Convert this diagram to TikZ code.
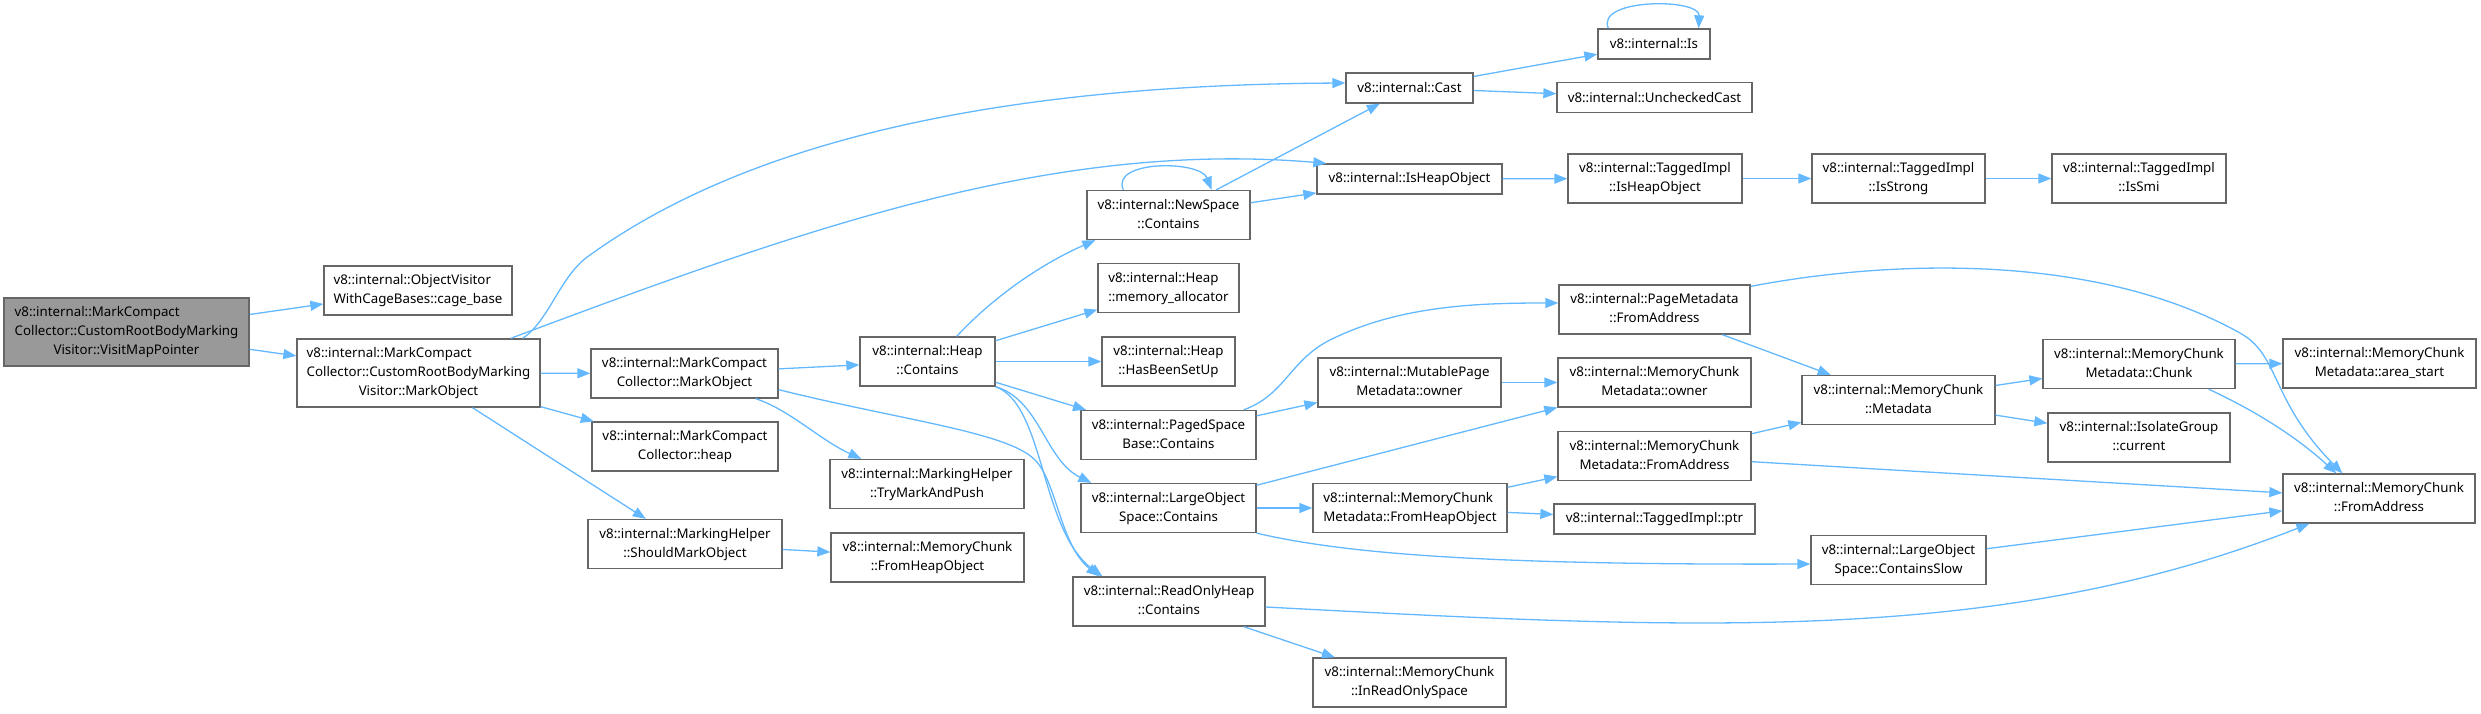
\documentclass[tikz,border=0pt]{standalone}
\usepackage{fontspec}
\usepackage{tikz}
\usetikzlibrary{arrows.meta}
\newfontfamily\dxfont{Noto Sans}
\definecolor{edgeblue}{HTML}{63B8FF}
\definecolor{boxline}{HTML}{666666}
\definecolor{rootfill}{HTML}{999999}
\tikzset{
  fn/.style={draw=boxline,line width=0.65pt,fill=white,inner sep=0pt,
    font=\dxfont\fontsize{6.65}{9.5}\selectfont},
  root/.style={fn,fill=rootfill},
  bw/.style={minimum width=#1*0.5pt},
  l1/.style={minimum height=15pt},
  l2/.style={minimum height=24.5pt},
  l3/.style={minimum height=34pt},
  call/.style={-{Triangle[length=6.5pt,width=5pt]},line width=0.65pt,edgeblue},
}
\newcommand{\dxl}[2]{\begin{tabular}{@{}l@{}}#1\\\multicolumn{1}{@{}c@{}}{#2}\end{tabular}}

\begin{document}
\begin{tikzpicture}[x=0.5pt,y=-0.5pt]
  \useasboundingbox (0,0) rectangle (2481,713);
  \node[root,bw=245,l3] (vmp) at (126.5,332) {\dxl{v8::internal::MarkCompact\\Collector::CustomRootBodyMarking}{Visitor::VisitMapPointer}};
  \node[fn,bw=188,l2] (cage) at (418,290.5) {\dxl{v8::internal::ObjectVisitor}{WithCageBases::cage\_base}};
  \node[fn,bw=243,l3] (crbmo) at (418.5,373) {\dxl{v8::internal::MarkCompact\\Collector::CustomRootBodyMarking}{Visitor::MarkObject}};
  \node[fn,bw=187,l2] (cmo) at (684.5,373.5) {\dxl{v8::internal::MarkCompact}{Collector::MarkObject}};
  \node[fn,bw=186,l2] (heap) at (685,446.5) {\dxl{v8::internal::MarkCompact}{Collector::heap}};
  \node[fn,bw=194,l2] (should) at (685,544) {\dxl{v8::internal::MarkingHelper}{::ShouldMarkObject}};
  \node[fn,bw=135,l2] (hcont) at (927.5,361.5) {\dxl{v8::internal::Heap}{::Contains}};
  \node[fn,bw=194,l2] (trymark) at (927,484) {\dxl{v8::internal::MarkingHelper}{::TryMarkAndPush}};
  \node[fn,bw=193,l2] (mcfho) at (927.5,557.5) {\dxl{v8::internal::MemoryChunk}{::FromHeapObject}};
  \node[fn,bw=163,l2] (nscont) at (1168.5,215) {\dxl{v8::internal::NewSpace}{::Contains}};
  \node[fn,bw=141,l2] (memalloc) at (1168.5,288) {\dxl{v8::internal::Heap}{::memory\_allocator}};
  \node[fn,bw=133,l2] (hasbeen) at (1168.5,361.5) {\dxl{v8::internal::Heap}{::HasBeenSetUp}};
  \node[fn,bw=175,l2] (paged) at (1168.5,435) {\dxl{v8::internal::PagedSpace}{Base::Contains}};
  \node[fn,bw=175,l2] (large) at (1168.5,508) {\dxl{v8::internal::LargeObject}{Space::Contains}};
  \node[fn,bw=192,l2] (rohc) at (1169,601.5) {\dxl{v8::internal::ReadOnlyHeap}{::Contains}};
  \node[fn,bw=127,l1] (cast) at (1409.5,88) {v8::internal::Cast};
  \node[fn,bw=185,l1] (ishob) at (1409.5,179) {v8::internal::IsHeapObject};
  \node[fn,bw=183,l2] (mpmo) at (1409.5,382.5) {\dxl{v8::internal::MutablePage}{Metadata::owner}};
  \node[fn,bw=194,l2] (mcmfho) at (1410,508) {\dxl{v8::internal::MemoryChunk}{Metadata::FromHeapObject}};
  \node[fn,bw=193,l2] (inro) at (1409.5,682.5) {\dxl{v8::internal::MemoryChunk}{::InReadOnlySpace}};
  \node[fn,bw=112,l1] (is) at (1654,44) {v8::internal::Is};
  \node[fn,bw=195,l1] (unchecked) at (1654.5,97.5) {v8::internal::UncheckedCast};
  \node[fn,bw=174,l2] (tihob) at (1655,178.5) {\dxl{v8::internal::TaggedImpl}{::IsHeapObject}};
  \node[fn,bw=191,l2] (pmfa) at (1654.5,309.5) {\dxl{v8::internal::PageMetadata}{::FromAddress}};
  \node[fn,bw=193,l2] (mcmo) at (1654.5,382.5) {\dxl{v8::internal::MemoryChunk}{Metadata::owner}};
  \node[fn,bw=193,l2] (mcmfa) at (1654.5,456) {\dxl{v8::internal::MemoryChunk}{Metadata::FromAddress}};
  \node[fn,bw=201,l1] (ptr) at (1654.5,519) {v8::internal::TaggedImpl::ptr};
  \node[fn,bw=173,l2] (isstrong) at (1898.5,178.5) {\dxl{v8::internal::TaggedImpl}{::IsStrong}};
  \node[fn,bw=193,l2] (mcmeta) at (1898.5,400) {\dxl{v8::internal::MemoryChunk}{::Metadata}};
  \node[fn,bw=175,l2] (slow) at (1898.5,560) {\dxl{v8::internal::LargeObject}{Space::ContainsSlow}};
  \node[fn,bw=174,l2] (issmi) at (2139,178.5) {\dxl{v8::internal::TaggedImpl}{::IsSmi}};
  \node[fn,bw=192,l2] (chunk) at (2139,364) {\dxl{v8::internal::MemoryChunk}{Metadata::Chunk}};
  \node[fn,bw=182,l2] (isogrp) at (2139,437.5) {\dxl{v8::internal::IsolateGroup}{::current}};
  \node[fn,bw=193,l2] (areastart) at (2379.5,363.5) {\dxl{v8::internal::MemoryChunk}{Metadata::area\_start}};
  \node[fn,bw=192,l2] (mcfa) at (2379,498.5) {\dxl{v8::internal::MemoryChunk}{::FromAddress}};

  \draw[call] (vmp)--(cage); \draw[call] (vmp)--(crbmo);
  \draw[call] ([xshift=-9pt]crbmo.north east) .. controls (550,320) and (560,275) .. (590,255)
    .. controls (750,140) and (1000,85) .. ([yshift=2.5pt]cast.west);
  \draw[call] ([xshift=-15pt]crbmo.north east) .. controls (800,230) and (1050,140) .. ([xshift=5pt]ishob.north west);
  \draw[call] (crbmo)--(cmo); \draw[call] (crbmo)--(heap); \draw[call] (crbmo)--(should);
  \draw[call] (cmo)--(hcont);
  \draw[call] ([xshift=-11.5pt]cmo.south east) .. controls (790,410) and (820,440) .. ([xshift=16pt]trymark.north west);
  \draw[call] ([yshift=4.5pt]cmo.south east) .. controls (900,420) and (1008,432) .. (1035,460)
    .. controls (1057,482) and (1060,545) .. ([xshift=13.5pt]rohc.north west);
  \draw[call] (should)--(mcfho);
  \draw[call] ([xshift=-19.5pt]hcont.north east) .. controls (1000,290) and (1050,260) .. ([xshift=4.5pt]nscont.south west);
  \draw[call] (hcont)--(memalloc); \draw[call] (hcont)--(hasbeen); \draw[call] (hcont)--(paged);
  \draw[call] (hcont.south east) .. controls (1040,400) and (1045,460) .. ([xshift=5.5pt]large.north west);
  \draw[call] (hcont.south east) .. controls (1045,405) and (1040,530) .. ([xshift=15pt]rohc.north west);
  \draw[call] ([xshift=18.5pt]nscont.north west) .. controls (1110,160) and (1200,160) .. ([xshift=-19.5pt]nscont.north east);
  \draw[call] (nscont)--(cast); \draw[call] (nscont)--(ishob);
  \draw[call] (cast)--(is); \draw[call] (cast)--(unchecked);
  \draw[call] ([xshift=5.5pt]is.north west) .. controls (1595,-2) and (1700,-2) .. ([xshift=-6pt]is.north east);
  \draw[call] (ishob)--(tihob); \draw[call] (tihob)--(isstrong); \draw[call] (isstrong)--(issmi);
  \draw[call] ([xshift=-6.5pt]paged.north east) .. controls (1285,395) and (1290,360) .. (1330,340)
    .. controls (1400,305) and (1480,303) .. ([yshift=3.25pt]pmfa.west);
  \draw[call] (paged)--(mpmo); \draw[call] (mpmo)--(mcmo);
  \draw[call] (pmfa)--(mcmeta);
  \draw[call] ([yshift=-1pt]pmfa.north east) .. controls (1900,258) and (2100,255) .. (2240,333)
    .. controls (2280,355) and (2270,400) .. ([xshift=30pt]mcfa.north west);
  \draw[call] (large)--(mcmo); \draw[call] (large)--(mcmfho);
  \draw[call] (large.south east) .. controls (1350,555) and (1500,565) .. ([yshift=-2pt]slow.west);
  \draw[call] (mcmfho)--(mcmfa); \draw[call] (mcmfho)--(ptr);
  \draw[call] (mcmfa)--(mcmeta); \draw[call] (mcmfa)--(mcfa);
  \draw[call] (mcmeta)--(chunk); \draw[call] (mcmeta)--(isogrp);
  \draw[call] (chunk)--(areastart);
  \draw[call] ([xshift=-13.5pt]chunk.south east) .. controls (2260,413) and (2300,440) .. ([xshift=27pt]mcfa.north west);
  \draw[call] (slow)--(mcfa);
  \draw[call] ([yshift=-2.75pt]rohc.east) .. controls (1700,630) and (2000,645) .. ([xshift=13.5pt]mcfa.south west);
  \draw[call] (rohc)--(inro);
\end{tikzpicture}
\end{document}
